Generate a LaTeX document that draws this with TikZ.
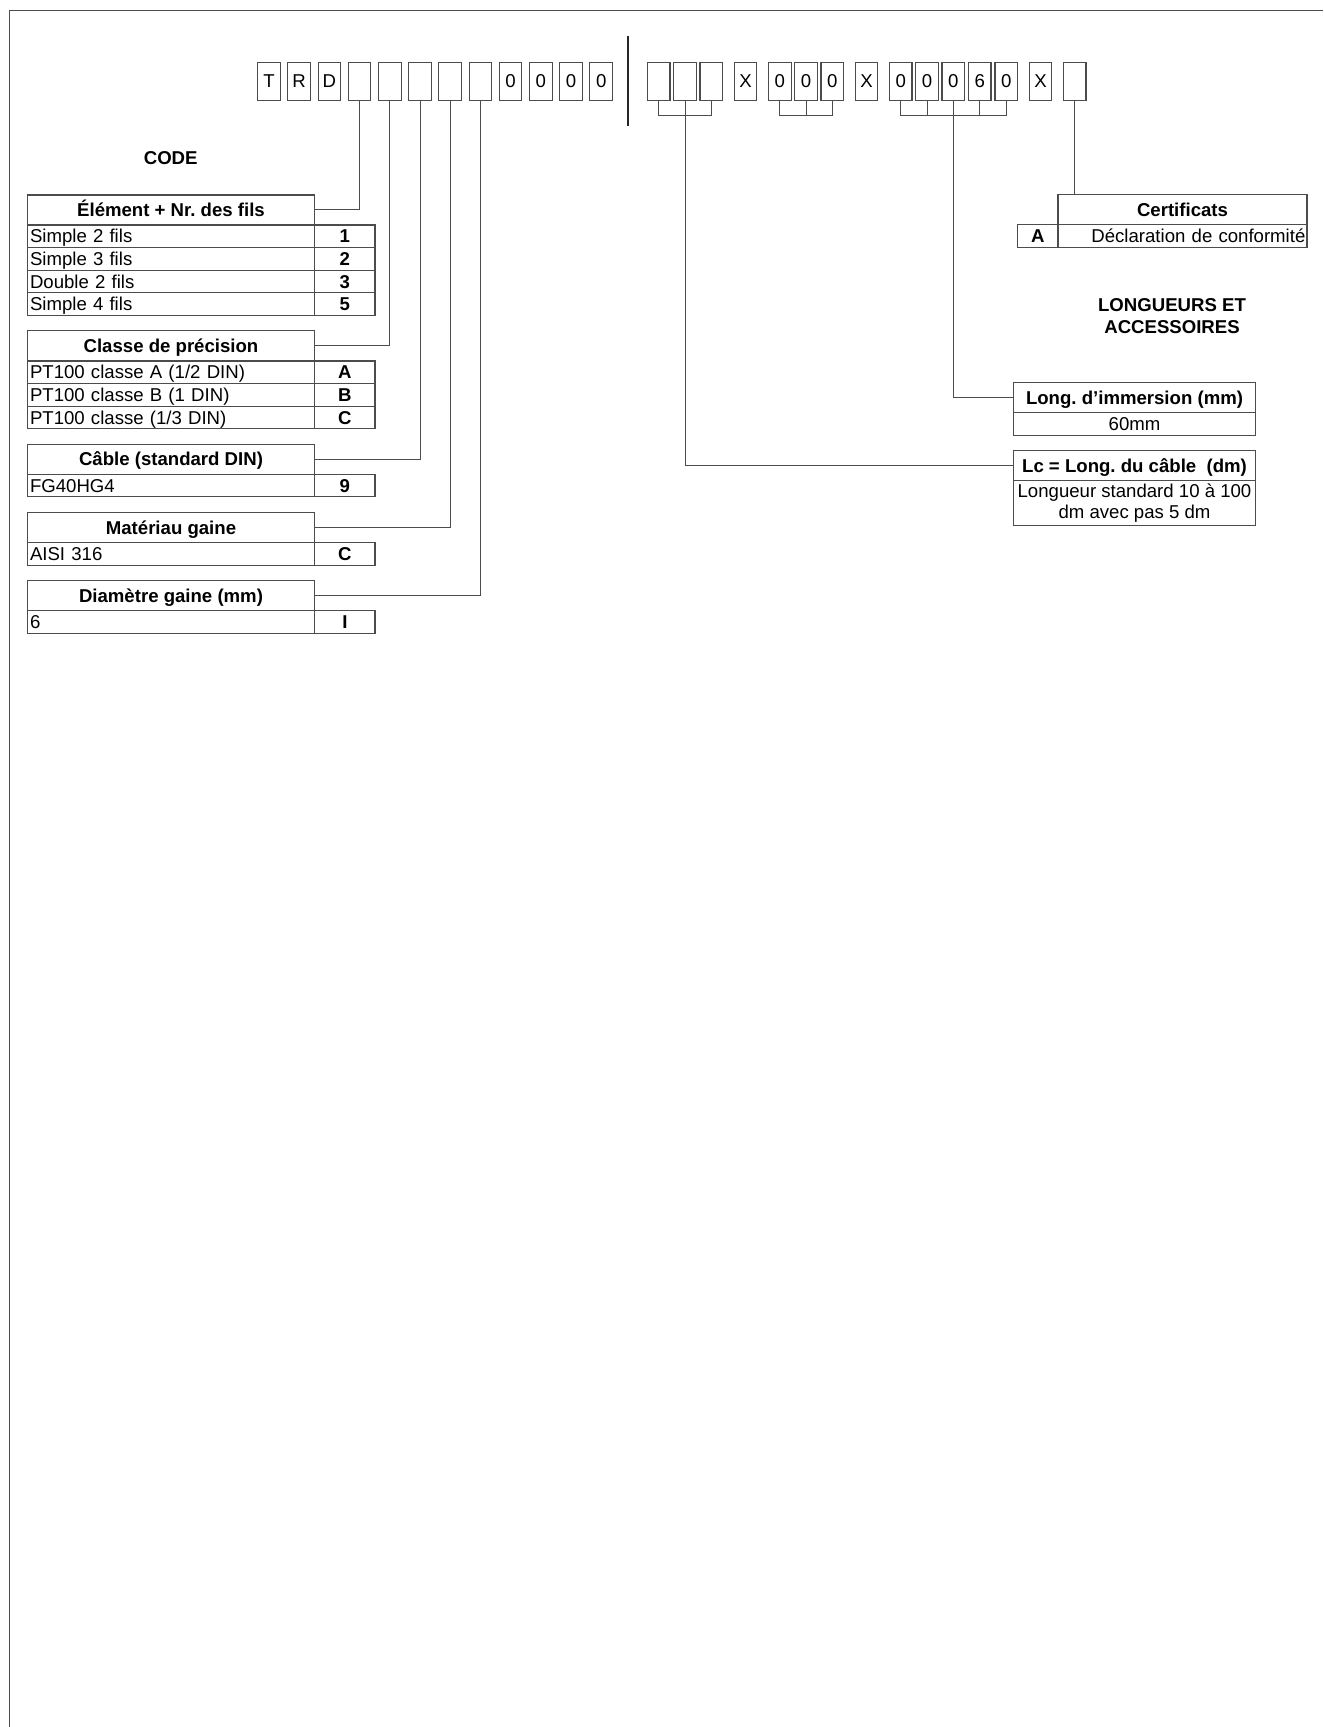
\documentclass[tikz,border=0pt]{standalone}
\usepackage{fontspec}
\setmainfont{Liberation Sans}
\usetikzlibrary{positioning}
\definecolor{linegray}{gray}{0.3}
\newcommand{\bodysize}{\fontsize{9.3}{10.4}\selectfont}
\tikzset{
  codebox/.style={draw=linegray, minimum width=11.3pt, minimum height=19.1pt, inner sep=0pt, outer sep=0pt},
  cell/.style={draw=linegray, outer sep=0pt, inner ysep=0pt, text height=7.2pt, text depth=0.6pt},
  hdcell/.style={cell, minimum height=15pt, inner xsep=0pt, font=\bodysize\bfseries},
  txtcell/.style={cell, minimum height=11.3pt, inner xsep=1.35pt, text width=141pt, align=left},
  keycell/.style={cell, minimum height=11.3pt, minimum width=30.15pt, inner xsep=0pt, font=\bodysize\bfseries},
  link/.style={draw=linegray, line width=0.5pt}
}
\begin{document}
\begin{tikzpicture}[x=0.5pt, y=-0.5pt, line width=0.55pt, every node/.style={font=\bodysize}]
  \useasboundingbox (0,0) rectangle (1323,1727);
  \draw[linegray, line width=0.7pt] (1323,10.7) -- (9.7,10.7) -- (9.7,1727);
  \draw[black!85, line width=1pt] (628.3,36) -- (628.3,126.5);

  % code boxes
  \foreach \ch [count=\i] in {T,R,D,{},{},{},{},{},0,0,0,0}
    \node[codebox] (L\i) at (238.8+30.2*\i,81.4) {\ch};
  \foreach \xp/\ch [count=\i] in {658.7/{},685/{},711.3/{},745.5/X,779.8/0,806/0,832.3/0,866.5/X,
      900.7/0,927/0,953.3/0,979.7/6,1006.3/0,1040.5/X,1074.7/{}}
    \node[codebox] (R\i) at (\xp,81.4) {\ch};

  \node[font=\bodysize\bfseries] (codeLbl) at (170.7,158.3) {CODE};
  \node[font=\fontsize{9.3}{10.85}\bfseries\selectfont, align=center] (lenLbl) at (1172,316) {LONGUEURS ET\\ACCESSOIRES};

  % left tables
  \node[hdcell, minimum width=143.7pt] (elem) at (171,210) {Élément + Nr.\ des fils};
  \foreach \t/\k [count=\i] in {Simple 2 fils/1, Simple 3 fils/2, Double 2 fils/3, Simple 4 fils/5} {
    \node[txtcell, anchor=north west] (elemT\i) at (27.3,202.4+22.6*\i) {\t};
    \node[keycell, anchor=west] (elemK\i) at (elemT\i.east) {\k};
  }
  \node[hdcell, minimum width=143.7pt] (classe) at (171,345.8) {Classe de précision};
  \foreach \t/\k [count=\i] in {{PT100 classe A (1/2 DIN)}/A, {PT100 classe B (1 DIN)}/B, {PT100 classe (1/3 DIN)}/C} {
    \node[txtcell, anchor=north west] (classeT\i) at (27.3,338.4+22.6*\i) {\t};
    \node[keycell, anchor=west] (classeK\i) at (classeT\i.east) {\k};
  }
  \node[hdcell, minimum width=143.7pt] (cable) at (171,459.2) {Câble (standard DIN)};
  \node[txtcell, anchor=north west] (cableT) at (cable.south west) {FG40HG4};
  \node[keycell, anchor=west] (cableK) at (cableT.east) {9};
  \node[hdcell, minimum width=143.7pt] (mat) at (171,527.5) {Matériau gaine};
  \node[txtcell, anchor=north west] (matT) at (mat.south west) {AISI 316};
  \node[keycell, anchor=west] (matK) at (matT.east) {C};
  \node[hdcell, minimum width=143.7pt] (diam) at (171,595.5) {Diamètre gaine (mm)};
  \node[txtcell, anchor=north west] (diamT) at (diam.south west) {6};
  \node[keycell, anchor=west] (diamK) at (diamT.east) {I};

  % right tables
  \node[hdcell, minimum width=124.5pt] (cert) at (1182.5,209.7) {Certificats};
  \node[keycell, minimum width=20.15pt, anchor=north east] (certK) at (cert.south west) {A};
  \node[txtcell, text width=122.9pt, inner xsep=0.8pt, align=right, anchor=north west] (certT) at (cert.south west) {Déclaration de conformité};
  \node[hdcell, minimum width=121pt] (imm) at (1134.5,397.7) {Long.\ d’immersion (mm)};
  \node[txtcell, text width=118.3pt, align=center, anchor=north] (immT) at (imm.south) {60mm};
  \node[hdcell, minimum width=121pt] (lc) at (1134.5,465.5) {Lc = Long.\ du câble \ (dm)};
  \node[draw=linegray, outer sep=0pt, inner sep=0pt, minimum width=121pt, minimum height=22.5pt,
    align=center, anchor=north] (lcT) at (lc.south) {Longueur standard 10 à 100\\dm avec pas 5 dm};

  % connectors
  \draw[link] (L4.south) |- (elem.east);
  \draw[link] (L5.south) |- (classe.east);
  \draw[link] (L6.south) |- (cable.east);
  \draw[link] (L7.south) |- (mat.east);
  \draw[link] (L8.south) |- (diam.east);
  \draw[link] (R1.south) -- ++(0,15) -| (R3.south);
  \draw[link] (R2.south) |- (lc.west);
  \draw[link] (R5.south) -- ++(0,15) -| (R7.south);
  \draw[link] (R6.south) -- ++(0,15);
  \draw[link] (R9.south) -- ++(0,15) -| (R13.south);
  \foreach \j in {10,12} \draw[link] (R\j.south) -- ++(0,15);
  \draw[link] (R11.south) |- (imm.west);
  \draw[link] (R15.south) -- (R15.south |- cert.north);
\end{tikzpicture}
\end{document}
